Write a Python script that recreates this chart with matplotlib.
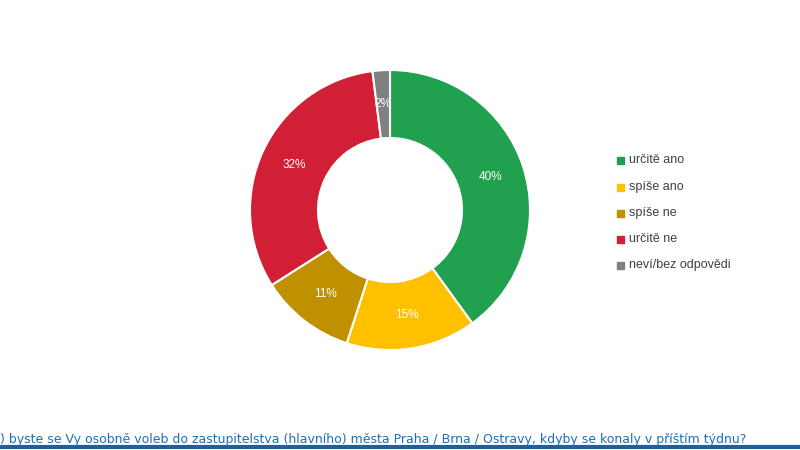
import matplotlib
matplotlib.use("Agg")
import matplotlib.pyplot as plt

labels = ["určitě ano", "spíše ano", "spíše ne", "určitě ne", "neví/bez odpovědi"]
values = [40, 15, 11, 32, 2]
colors = ["#21A04F", "#FFC000", "#BF9000", "#D11F35", "#808080"]

fig = plt.figure(figsize=(8, 4.5), dpi=100)
ax = fig.add_axes([(390-150)/800, 1-(210+150)/450, 300/800, 300/450])
wedges, _ = ax.pie(values, colors=colors, startangle=90, counterclock=False,
                   radius=140/150, wedgeprops=dict(width=68/150, edgecolor="white", linewidth=1.5))
import numpy as np
r = (140+72)/2/150
cum = 0
for v in values:
    mid = np.deg2rad(90 - (cum + v/2)*3.6)
    ax.text(r*np.cos(mid), r*np.sin(mid), f"{v}%", ha="center", va="center", fontsize=8.5, color="white", family="Liberation Sans")
    cum += v
ax.set_xlim(-1, 1); ax.set_ylim(-1, 1); ax.set_aspect("equal"); ax.axis("off")

ys = [160, 187, 213, 239, 265]
for lab, c, y in zip(labels, colors, ys):
    fig.patches.append(plt.Rectangle((617/800, 1-(y+4)/450), 7/800, 7/450, color=c, transform=fig.transFigure))
    fig.text(629/800, 1-y/450, lab, va="center", fontsize=9, color="#404040", family="Liberation Sans")

fig.text(0, 1-439/450, ") byste se Vy osobně voleb do zastupitelstva (hlavního) města Praha / Brna / Ostravy, kdyby se konaly v příštím týdnu?",
         fontsize=9, color="#1F6FB4", family="Liberation Sans Narrow", va="center")
fig.add_artist(plt.Line2D([0, 1], [1-447/450]*2, color="#1F5F9F", lw=3, transform=fig.transFigure))
fig.savefig("out.png", dpi=100)
